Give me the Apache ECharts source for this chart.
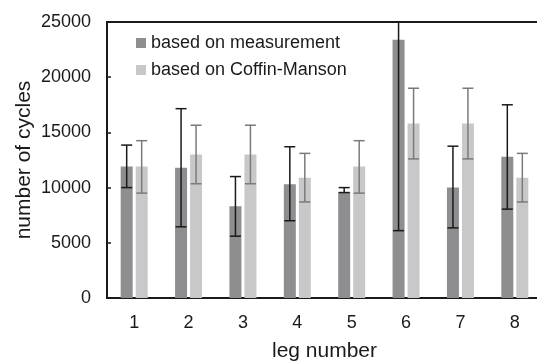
<!DOCTYPE html>
<html>
<head>
<meta charset="utf-8">
<script src="https://cdn.jsdelivr.net/npm/echarts@6/dist/echarts.min.js"></script>
<style>
  html, body { margin: 0; padding: 0; background: #fff; }
  #chart { width: 537px; height: 363px; }
</style>
</head>
<body>
<div id="chart"></div>
<script>
const categories = ["1", "2", "3", "4", "5", "6", "7", "8"];
const measured = [11900, 11800, 8300, 10300, 9600, 23400, 10000, 12800];
const measuredLow = [10000, 6450, 5600, 7000, 9550, 6100, 6350, 8050];
const measuredHigh = [13850, 17150, 11000, 13700, 10000, 40700, 13750, 17500];
const coffin = [11900, 13000, 13000, 10900, 11900, 15800, 15800, 10900];
const coffinLow = [9500, 10350, 10350, 8700, 9500, 12600, 12600, 8700];
const coffinHigh = [14250, 15650, 15650, 13100, 14250, 19000, 19000, 13100];
const yTicks = [0, 5000, 10000, 15000, 20000, 25000];

const FONT = '"Liberation Sans", Arial, sans-serif';
const BAR_WIDTH = 12;
const BAR_GAP = 3;
const OFFSET = (BAR_WIDTH + BAR_GAP) / 2;

function errorSeries(name, low, high, shift, color) {
  return {
    type: "custom",
    name: name + " error",
    clip: true,
    z: 5,
    encode: { x: 0, y: [1, 2] },
    data: categories.map((c, i) => [i, low[i], high[i]]),
    renderItem(params, api) {
      const pLow = api.coord([api.value(0), api.value(1)]);
      const pHigh = api.coord([api.value(0), api.value(2)]);
      const x = pLow[0] + shift;
      const half = 5.5;
      const style = { stroke: color, lineWidth: 1.5 };
      return {
        type: "group",
        children: [
          { type: "line", shape: { x1: x, y1: pLow[1], x2: x, y2: pHigh[1] }, style },
          { type: "line", shape: { x1: x - half, y1: pLow[1], x2: x + half, y2: pLow[1] }, style },
          { type: "line", shape: { x1: x - half, y1: pHigh[1], x2: x + half, y2: pHigh[1] }, style },
        ],
      };
    },
  };
}

const chart = echarts.init(document.getElementById("chart"), null, { renderer: "canvas" });
chart.setOption({
  animation: false,
  textStyle: { fontFamily: FONT },
  grid: {
    left: 107, top: 22, right: -5, bottom: 65,
    outerBoundsMode: "none",
    containLabel: false,
    show: true, borderColor: "#1a1a1a", borderWidth: 2,
  },
  legend: {
    orient: "vertical",
    left: 131, top: 29,
    itemWidth: 10, itemHeight: 10, itemGap: 9,
    icon: "rect",
    textStyle: { fontSize: 18, color: "#1a1a1a", fontFamily: FONT, lineHeight: 18 },
    data: ["based on measurement", "based on Coffin-Manson"],
  },
  xAxis: {
    type: "category",
    data: categories,
    name: "leg number",
    nameLocation: "middle",
    nameGap: 43,
    nameMoveOverlap: false,
    nameTextStyle: { fontSize: 21, color: "#1a1a1a", fontFamily: FONT },
    axisLine: { lineStyle: { color: "#1a1a1a", width: 2 } },
    axisTick: { inside: true, length: 5, lineStyle: { color: "#1a1a1a", width: 1.5 } },
    axisLabel: { fontSize: 18, color: "#1a1a1a", margin: 16, fontFamily: FONT },
  },
  yAxis: {
    type: "value",
    min: yTicks[0],
    max: yTicks[yTicks.length - 1],
    interval: yTicks[1] - yTicks[0],
    name: "number of cycles",
    nameLocation: "middle",
    nameGap: 72,
    nameMoveOverlap: false,
    nameTextStyle: { fontSize: 21, color: "#1a1a1a", fontFamily: FONT },
    axisLine: { show: true, lineStyle: { color: "#1a1a1a", width: 2 } },
    axisTick: { show: true, inside: true, length: 4, lineStyle: { color: "#1a1a1a", width: 1.5 } },
    axisLabel: {
      fontSize: 18, color: "#1a1a1a", margin: 16, fontFamily: FONT,
      formatter: (v) => String(v),
    },
    splitLine: { show: false },
  },
  series: [
    {
      type: "bar",
      name: "based on measurement",
      data: measured,
      barWidth: BAR_WIDTH,
      barGap: (BAR_GAP / BAR_WIDTH * 100) + "%",
      itemStyle: { color: "#8e8e90" },
    },
    {
      type: "bar",
      name: "based on Coffin-Manson",
      data: coffin,
      barWidth: BAR_WIDTH,
      itemStyle: { color: "#c8c8ca" },
    },
    errorSeries("based on measurement", measuredLow, measuredHigh, -OFFSET, "#1a1a1a"),
    errorSeries("based on Coffin-Manson", coffinLow, coffinHigh, OFFSET, "#7a7a7a"),
  ],
});
</script>
</body>
</html>
